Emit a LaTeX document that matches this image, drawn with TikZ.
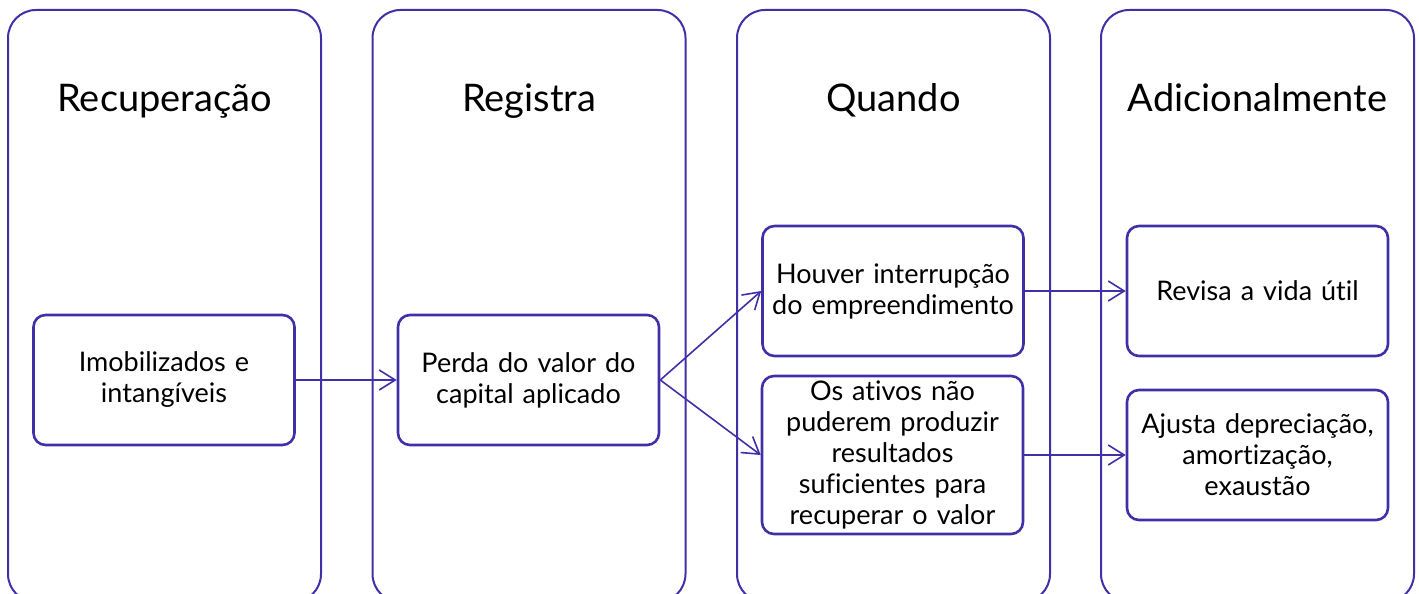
\documentclass[tikz,border=0pt]{standalone}
\usepackage{fontspec}
\setmainfont{Lato}[Ligatures=CommonOff]
\usetikzlibrary{arrows.meta}
\definecolor{frame}{RGB}{64,48,168}

\begin{document}
\begin{tikzpicture}
  [x=1pt, y=-1pt,
  column/.style={rectangle, draw=frame, line width=2pt, rounded corners=28pt,
  minimum width=313pt, minimum height=592pt, inner sep=0pt},
  title/.style={anchor=base, font=\fontsize{38}{44}\selectfont},
  block/.style={rectangle, draw=frame, line width=2.6pt, rounded corners=12pt,
  minimum width=261pt, minimum height=130pt, inner sep=0pt,
  text width=258pt, align=center, font=\fontsize{27}{31}\selectfont},
  line/.style={draw=frame, line width=1.6pt,
  -{Straight Barb[length=16pt, width=20pt, line width=1.6pt]}}]

  \useasboundingbox (0,0) rectangle (1419,594);

  \node [column] (rec) at (164.5,306) {};
  \node [column] (reg) at (529,306) {};
  \node [column] (qua) at (893.5,306) {};
  \node [column] (adi) at (1257.5,306) {};

  \node [title] (trec) at (164.5,111) {Recuperação};
  \node [title] (treg) at (529,111) {Registra};
  \node [title] (tqua) at (893.5,111) {Quando};
  \node [title] (tadi) at (1257.5,111) {Adicionalmente};

  \node [block] (imob) at (164,380) {Imobilizados e\\intangíveis};
  \node [block] (perda) at (528.5,380) {Perda do valor do\\capital aplicado};
  \node [block] (interr) at (893,291) {Houver interrupção\\do empreendimento};
  \node [block, minimum height=158pt] (ativos) at (892.5,455)
    {Os ativos não\\puderem produzir\\resultados\\suficientes para\\recuperar o valor};
  \node [block] (revisa) at (1257.5,291) {Revisa a vida útil};
  \node [block] (ajusta) at (1257.5,455) {Ajusta depreciação,\\amortização,\\exaustão};

  \begin{scope}[every path/.style=line]
    \path (imob) -- (perda);
    \path (perda.east) -- (interr.west);
    \path (perda.east) -- (ativos.west);
    \path (interr) -- (revisa);
    \path (ativos) -- (ajusta);
  \end{scope}
\end{tikzpicture}
\end{document}
